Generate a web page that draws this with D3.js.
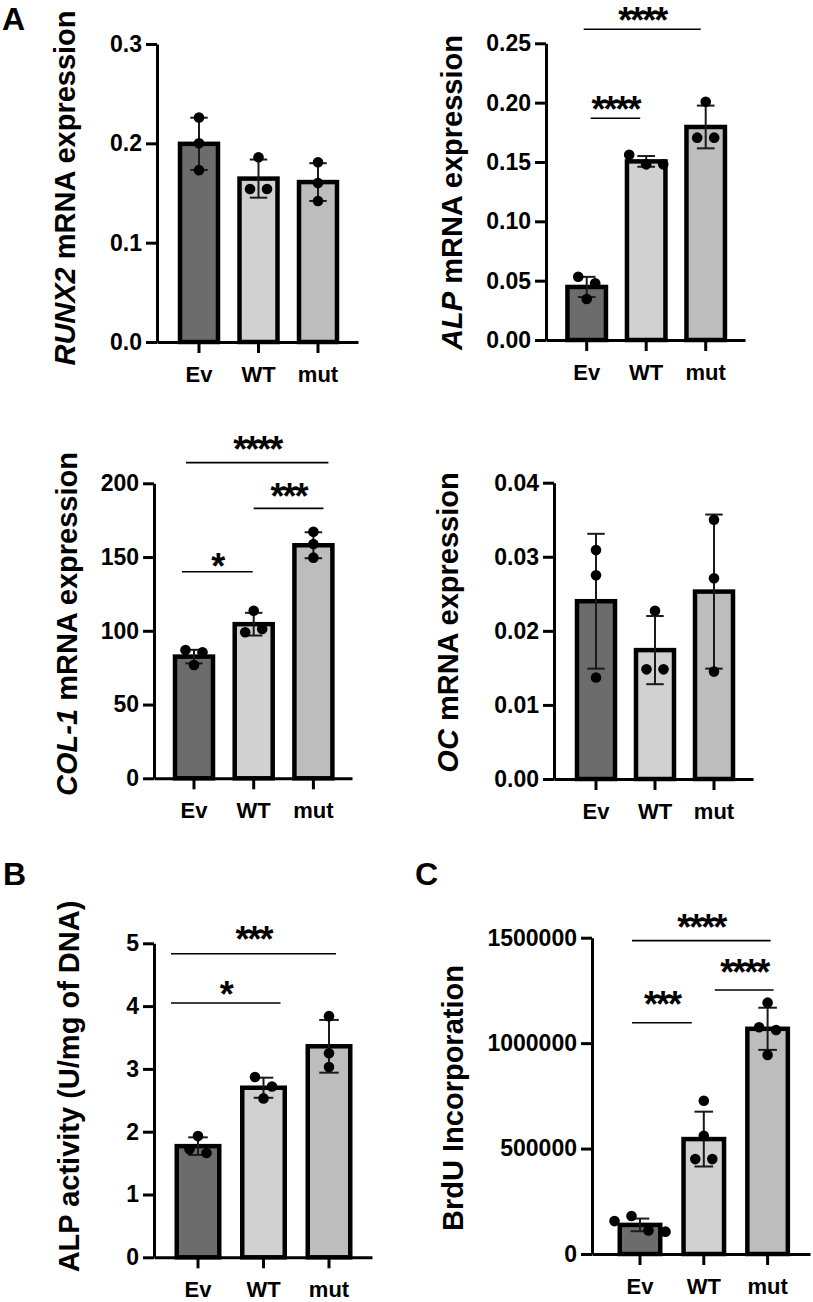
<!DOCTYPE html>
<html>
<head>
<meta charset="utf-8">
<script src="https://cdn.jsdelivr.net/npm/d3@7"></script>
<style>
  html, body { margin: 0; padding: 0; background: #fff; }
  svg { display: block; }
  text { font-family: "Liberation Sans", Arial, Helvetica, sans-serif; font-weight: bold; fill: #000; }
</style>
</head>
<body>
<svg id="chart" width="813" height="1302"></svg>
<script>
// ---------------- DATA ----------------
const categories = ["Ev", "WT", "mut"];

// A: RUNX2 mRNA expression
const runx2Points = [[0.226, 0.200, 0.173], [0.186, 0.154, 0.154], [0.181, 0.160, 0.142]];
const runx2Mean   = [0.1995, 0.1645, 0.161];
const runx2SD     = [0.0263, 0.0192, 0.0190];
const runx2Ticks  = [0, 0.1, 0.2, 0.3];
const runx2TickLabels = ["0.0", "0.1", "0.2", "0.3"];

// A: ALP mRNA expression
const alpPoints = [[0.0533, 0.0478, 0.0345], [0.156, 0.148, 0.148], [0.2008, 0.1705, 0.1705]];
const alpMean   = [0.0447, 0.1505, 0.1795];
const alpSD     = [0.0085, 0.0045, 0.0180];
const alpTicks  = [0, 0.05, 0.10, 0.15, 0.20, 0.25];
const alpTickLabels = ["0.00", "0.05", "0.10", "0.15", "0.20", "0.25"];
const alpSigPairs  = [["Ev", "WT"], ["Ev", "mut"]];
const alpSigLabels = ["****", "****"];

// A: COL-1 mRNA expression
const colPoints = [[87.0, 85.4, 76.8], [113.6, 99.0, 101.2], [167.2, 158.8, 149.6]];
const colMean   = [82.5, 104.5, 158.0];
const colSD     = [4.6, 7.7, 8.8];
const colTicks  = [0, 50, 100, 150, 200];
const colTickLabels = ["0", "50", "100", "150", "200"];
const colSigPairs  = [["Ev", "WT"], ["WT", "mut"], ["Ev", "mut"]];
const colSigLabels = ["*", "***", "****"];

// A: OC mRNA expression
const ocPoints = [[0.0309, 0.0275, 0.0137], [0.0227, 0.0148, 0.0148], [0.0350, 0.0271, 0.0145]];
const ocMean   = [0.0240, 0.0174, 0.0253];
const ocSD     = [0.0091, 0.0046, 0.0104];
const ocTicks  = [0, 0.01, 0.02, 0.03, 0.04];
const ocTickLabels = ["0.00", "0.01", "0.02", "0.03", "0.04"];

// B: ALP activity
const actPoints = [[1.93, 1.72, 1.66], [2.87, 2.72, 2.53], [3.84, 3.25, 3.03]];
const actMean   = [1.77, 2.70, 3.36];
const actSD     = [0.14, 0.16, 0.42];
const actTicks  = [0, 1, 2, 3, 4, 5];
const actTickLabels = ["0", "1", "2", "3", "4", "5"];
const actSigPairs  = [["Ev", "WT"], ["Ev", "mut"]];
const actSigLabels = ["*", "***"];

// C: BrdU incorporation
const brduPoints = [[156000, 180000, 112000, 106000], [727000, 561000, 450000, 450000], [1192000, 1075000, 1062000, 944000]];
const brduMean   = [138000, 545000, 1068000];
const brduSD     = [30000, 130000, 100000];
const brduTicks  = [0, 500000, 1000000, 1500000];
const brduTickLabels = ["0", "500000", "1000000", "1500000"];
const brduSigPairs  = [["Ev", "WT"], ["WT", "mut"], ["Ev", "mut"]];
const brduSigLabels = ["***", "****", "****"];

const barColors = ["#6c6c6c", "#d1d1d1", "#bdbdbd"];

// ---------------- LAYOUT ----------------
const panels = [
  { points: runx2Points, mean: runx2Mean, sd: runx2SD, ticks: runx2Ticks, tickLabels: runx2TickLabels,
    sigPairs: [], sigLabels: [],
    ital: "RUNX2", rest: " mRNA expression",
    x0: 157, x1: 358, c1: 199, step: 59.5, bw: 38, y0: 342, yTop: 44, labelX: 75, labelY: 188, sig: [] },
  { points: alpPoints, mean: alpMean, sd: alpSD, ticks: alpTicks, tickLabels: alpTickLabels,
    sigPairs: alpSigPairs, sigLabels: alpSigLabels,
    ital: "ALP", rest: " mRNA expression",
    x0: 546, x1: 745, c1: 586.7, step: 59.5, bw: 38.5, y0: 340, yTop: 43.3, labelX: 462, labelY: 192.5,
    sig: [ { level: 0.1868, dx0: 4, dx1: -6, gap: 17 }, { level: 0.2618, dx0: -3, dx1: -5, gap: 17 } ] },
  { points: colPoints, mean: colMean, sd: colSD, ticks: colTicks, tickLabels: colTickLabels,
    sigPairs: colSigPairs, sigLabels: colSigLabels,
    ital: "COL-1", rest: " mRNA expression",
    x0: 154, x1: 352, c1: 194, step: 59.7, bw: 38, y0: 778.3, yTop: 483.3, labelX: 77, labelY: 624,
    sig: [ { level: 140, dx0: -12, dx1: -1, gap: 13 }, { level: 183, dx0: 0, dx1: 10, gap: 20 }, { level: 214, dx0: -8, dx1: 15, gap: 21 } ] },
  { points: ocPoints, mean: ocMean, sd: ocSD, ticks: ocTicks, tickLabels: ocTickLabels,
    sigPairs: [], sigLabels: [],
    ital: "OC", rest: " mRNA expression",
    x0: 554, x1: 753, c1: 596, step: 59, bw: 38, y0: 779, yTop: 482.7, labelX: 458, labelY: 622.5, sig: [] },
  { points: actPoints, mean: actMean, sd: actSD, ticks: actTicks, tickLabels: actTickLabels,
    sigPairs: actSigPairs, sigLabels: actSigLabels,
    ital: "", rest: "ALP activity (U/mg of DNA)",
    x0: 154, x1: 372, c1: 198, step: 65.5, bw: 42.5, y0: 1257.3, yTop: 943.3, labelX: 79, labelY: 1086.5,
    sig: [ { level: 4.05, dx0: -27, dx1: 17, gap: 16 }, { level: 4.834, dx0: -27, dx1: 7, gap: 22 } ] },
  { points: brduPoints, mean: brduMean, sd: brduSD, ticks: brduTicks, tickLabels: brduTickLabels,
    sigPairs: brduSigPairs, sigLabels: brduSigLabels,
    ital: "", rest: "BrdU Incorporation",
    x0: 592, x1: 810, c1: 640, step: 63.8, bw: 40.5, y0: 1254, yTop: 937.7, labelX: 463, labelY: 1098,
    sig: [ { level: 1097000, dx0: -8, dx1: -12, gap: 26 }, { level: 1252000, dx0: 11, dx1: 6, gap: 25 }, { level: 1486000, dx0: -8, dx1: 3, gap: 21 } ] }
];

const letters = [ { t: "A", x: 2, y: 30 }, { t: "B", x: 3, y: 885 }, { t: "C", x: 415, y: 885 } ];

const svg = d3.select("#chart");

letters.forEach(l => {
  svg.append("text").attr("x", l.x).attr("y", l.y).attr("font-size", 32).text(l.t);
});

function jitter(vals, y, spacing, diam) {
  // group points whose pixel positions overlap, spread them side by side
  const idx = vals.map((v, i) => ({ i, py: y(v) })).sort((a, b) => a.py - b.py);
  const offs = new Array(vals.length).fill(0);
  let cluster = [idx[0]];
  const flush = () => {
    const c = cluster.slice().sort((a, b) => a.i - b.i);
    c.forEach((p, k) => { offs[p.i] = (k - (c.length - 1) / 2) * spacing; });
  };
  for (let k = 1; k < idx.length; k++) {
    if (idx[k].py - idx[k - 1].py < diam) cluster.push(idx[k]);
    else { flush(); cluster = [idx[k]]; }
  }
  flush();
  return offs;
}

panels.forEach(p => {
  const g = svg.append("g");
  const n = categories.length;
  const total = p.x1 - p.x0;
  const pi = 1 - p.bw / p.step;
  const po = (total / p.step - n + pi) / 2;
  const align = (p.c1 - p.bw / 2 - p.x0) / (total - p.step * (n - pi));
  const x = d3.scaleBand().domain(categories).range([p.x0, p.x1])
    .paddingInner(pi).paddingOuter(po).align(align);
  const yMax = p.ticks[p.ticks.length - 1];
  const y = d3.scaleLinear().domain([0, yMax]).range([p.y0, p.yTop]);

  // bars
  g.selectAll("rect.bar").data(categories).join("rect")
    .attr("x", d => x(d)).attr("width", x.bandwidth())
    .attr("y", (d, i) => y(p.mean[i])).attr("height", (d, i) => y(0) - y(p.mean[i]))
    .attr("fill", (d, i) => barColors[i]).attr("stroke", "#000").attr("stroke-width", 4.5);

  // axes
  const yAxis = d3.axisLeft(y).tickValues(p.ticks).tickFormat((d, i) => p.tickLabels[i])
    .tickSize(11).tickSizeOuter(0).tickPadding(4);
  const ya = g.append("g").attr("transform", `translate(${p.x0},0)`).call(yAxis);
  ya.selectAll("path, line").attr("stroke", "#000").attr("stroke-width", 3);
  ya.selectAll("text").attr("font-size", 23).attr("font-family", "Liberation Sans, Arial, sans-serif").attr("font-weight", "bold");

  const xAxis = d3.axisBottom(x).tickSize(11).tickSizeOuter(0).tickPadding(13);
  const xa = g.append("g").attr("transform", `translate(0,${p.y0})`).call(xAxis);
  xa.selectAll("path, line").attr("stroke", "#000").attr("stroke-width", 3);
  xa.selectAll("text").attr("font-size", 22).attr("font-family", "Liberation Sans, Arial, sans-serif").attr("font-weight", "bold");

  // error bars (mean ± SD)
  const capW = x.bandwidth() * 0.46;
  categories.forEach((c, i) => {
    const cx = x(c) + x.bandwidth() / 2;
    const lo = p.mean[i] - p.sd[i], hi = p.mean[i] + p.sd[i];
    const eb = g.append("g").attr("stroke", "#1a1a1a").attr("stroke-width", 2);
    eb.append("line").attr("x1", cx).attr("x2", cx).attr("y1", y(lo)).attr("y2", y(hi));
    eb.append("line").attr("x1", cx - capW / 2).attr("x2", cx + capW / 2).attr("y1", y(hi)).attr("y2", y(hi));
    eb.append("line").attr("x1", cx - capW / 2).attr("x2", cx + capW / 2).attr("y1", y(lo)).attr("y2", y(lo));
  });

  // points
  categories.forEach((c, i) => {
    const cx = x(c) + x.bandwidth() / 2;
    const vals = p.points[i];
    const offs = jitter(vals, y, 17, 10);
    g.selectAll(null).data(vals).join("circle")
      .attr("cx", (d, k) => cx + offs[k]).attr("cy", d => y(d)).attr("r", 5.3).attr("fill", "#000");
  });

  // significance brackets
  p.sigPairs.forEach((pair, k) => {
    const s = p.sig[k];
    const xa0 = x(pair[0]) + x.bandwidth() / 2 + s.dx0;
    const xa1 = x(pair[1]) + x.bandwidth() / 2 + s.dx1;
    const ly = y(s.level);
    g.append("line").attr("x1", xa0).attr("x2", xa1).attr("y1", ly).attr("y2", ly)
      .attr("stroke", "#000").attr("stroke-width", 1.6);
    g.append("text").attr("x", (xa0 + xa1) / 2).attr("y", ly - s.gap)
      .attr("text-anchor", "middle").attr("dominant-baseline", "central")
      .attr("font-size", 36).attr("letter-spacing", -2).attr("dy", "0.22em")
      .text(p.sigLabels[k]);
  });

  // y label
  const lab = g.append("text").attr("transform", `translate(${p.labelX},${p.labelY}) rotate(-90)`)
    .attr("text-anchor", "middle").attr("font-size", 29);
  if (p.ital) lab.append("tspan").attr("font-style", "italic").text(p.ital);
  lab.append("tspan").text(p.rest);
});
</script>
</body>
</html>
